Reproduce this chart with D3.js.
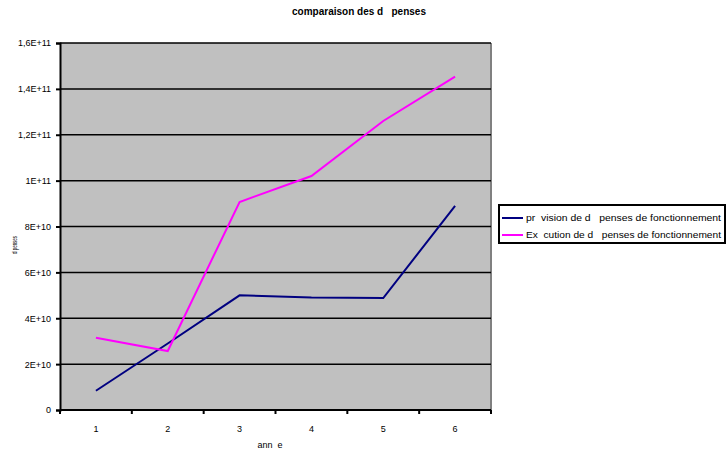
<!DOCTYPE html>
<html>
<head>
<meta charset="utf-8">
<script src="https://cdn.jsdelivr.net/npm/d3@7"></script>
<style>
  body { margin: 0; background: #fff; }
  text { font-family: "Liberation Sans", Arial, sans-serif; white-space: pre; }
</style>
</head>
<body>
<div id="chart"></div>
<script>
// data
var years = ["1", "2", "3", "4", "5", "6"];
var prevision = [8.4e9, 2.9e10, 5.0e10, 4.9e10, 4.88e10, 8.9e10];
var execution = [3.15e10, 2.57e10, 9.07e10, 1.02e11, 1.26e11, 1.453e11];
var yTicks = [0, 2e10, 4e10, 6e10, 8e10, 1e11, 1.2e11, 1.4e11, 1.6e11];
var yTickLabels = ["0", "2E+10", "4E+10", "6E+10", "8E+10", "1E+11", "1,2E+11", "1,4E+11", "1,6E+11"];
var seriesNames = ["pr  vision de d   penses de fonctionnement", "Ex  cution de d   penses de fonctionnement"];
var seriesColors = ["#000080", "#ff00ff"];

var w = 726, h = 452;
var pLeft = 60, pRight = 491, pTop = 43, pBottom = 410;

var svg = d3.select("#chart").append("svg")
    .attr("width", w)
    .attr("height", h);

var x = d3.scaleBand().domain(years).range([pLeft, pRight]);
var y = d3.scaleLinear().domain([0, 1.6e11]).range([pBottom, pTop]);

// plot area
svg.append("rect")
    .attr("x", pLeft).attr("y", pTop)
    .attr("width", pRight - pLeft).attr("height", pBottom - pTop)
    .style("fill", "#c0c0c0");
svg.append("line")
    .attr("x1", pRight).attr("x2", pRight)
    .attr("y1", pTop).attr("y2", pBottom)
    .style("stroke", "#808080").style("stroke-width", 2);

// gridlines
svg.selectAll("line.grid")
    .data(yTicks.slice(1))
    .enter()
    .append("line")
    .attr("class", "grid")
    .attr("x1", pLeft).attr("x2", pRight)
    .attr("y1", function (d) { return y(d); })
    .attr("y2", function (d) { return y(d); })
    .style("stroke", "#000").style("stroke-width", 1.5);

// y axis
var yAxis = d3.axisLeft(y)
    .tickValues(yTicks)
    .tickSize(4)
    .tickPadding(5)
    .tickFormat(function (d, i) { return yTickLabels[i]; });
var gy = svg.append("g")
    .attr("transform", "translate(" + pLeft + ",0)")
    .call(yAxis);
gy.select(".domain").style("stroke", "#000").style("stroke-width", 2);
gy.selectAll(".tick line").style("stroke", "#000").style("stroke-width", 2);
gy.selectAll(".tick text").style("font-size", "9px").style("fill", "#000")
    .style("font-family", "'Liberation Sans', Arial, sans-serif");

// x axis: ticks between categories
var xEdges = years.map(function (d) { return x(d); }).concat([pRight]);
svg.append("line")
    .attr("x1", pLeft).attr("x2", pRight)
    .attr("y1", pBottom).attr("y2", pBottom)
    .style("stroke", "#000").style("stroke-width", 2);
svg.selectAll("line.xtick")
    .data(xEdges)
    .enter()
    .append("line")
    .attr("class", "xtick")
    .attr("x1", function (d) { return d; })
    .attr("x2", function (d) { return d; })
    .attr("y1", pBottom).attr("y2", pBottom + 4)
    .style("stroke", "#000").style("stroke-width", 2);
svg.selectAll("text.xlab")
    .data(years)
    .enter()
    .append("text")
    .attr("class", "xlab")
    .attr("x", function (d) { return x(d) + x.bandwidth() / 2; })
    .attr("y", 432)
    .attr("text-anchor", "middle")
    .style("font-size", "9px")
    .text(function (d) { return d; });

// lines
var line = d3.line()
    .x(function (d, i) { return x(years[i]) + x.bandwidth() / 2; })
    .y(function (d) { return y(d); });

[prevision, execution].forEach(function (s, k) {
    svg.append("path")
        .datum(s)
        .attr("d", line)
        .style("fill", "none")
        .style("stroke", seriesColors[k])
        .style("stroke-width", 2);
});

// titles
svg.append("text")
    .attr("x", 359).attr("y", 15)
    .attr("text-anchor", "middle")
    .style("font-size", "10px").style("font-weight", "bold")
    .text("comparaison des d   penses");
svg.append("text")
    .attr("x", 270).attr("y", 448)
    .attr("text-anchor", "middle")
    .style("font-size", "9px")
    .text("ann  e");
svg.append("text")
    .attr("transform", "translate(17,245) rotate(-90)")
    .attr("text-anchor", "middle")
    .style("font-size", "7px")
    .attr("textLength", 18)
    .attr("lengthAdjust", "spacingAndGlyphs")
    .text("d penses");

// legend
var lg = svg.append("g");
lg.append("rect")
    .attr("x", 499).attr("y", 205)
    .attr("width", 226).attr("height", 38)
    .style("fill", "#fff")
    .style("stroke", "#000").style("stroke-width", 2);
seriesNames.forEach(function (name, k) {
    var yy = 218 + k * 17;
    lg.append("line")
        .attr("x1", 502).attr("x2", 523)
        .attr("y1", yy).attr("y2", yy)
        .style("stroke", seriesColors[k]).style("stroke-width", 2);
    lg.append("text")
        .attr("x", 526).attr("y", yy + 3)
        .style("font-size", "9px")
        .attr("textLength", 195)
        .attr("lengthAdjust", "spacingAndGlyphs")
        .text(name);
});
</script>
</body>
</html>
